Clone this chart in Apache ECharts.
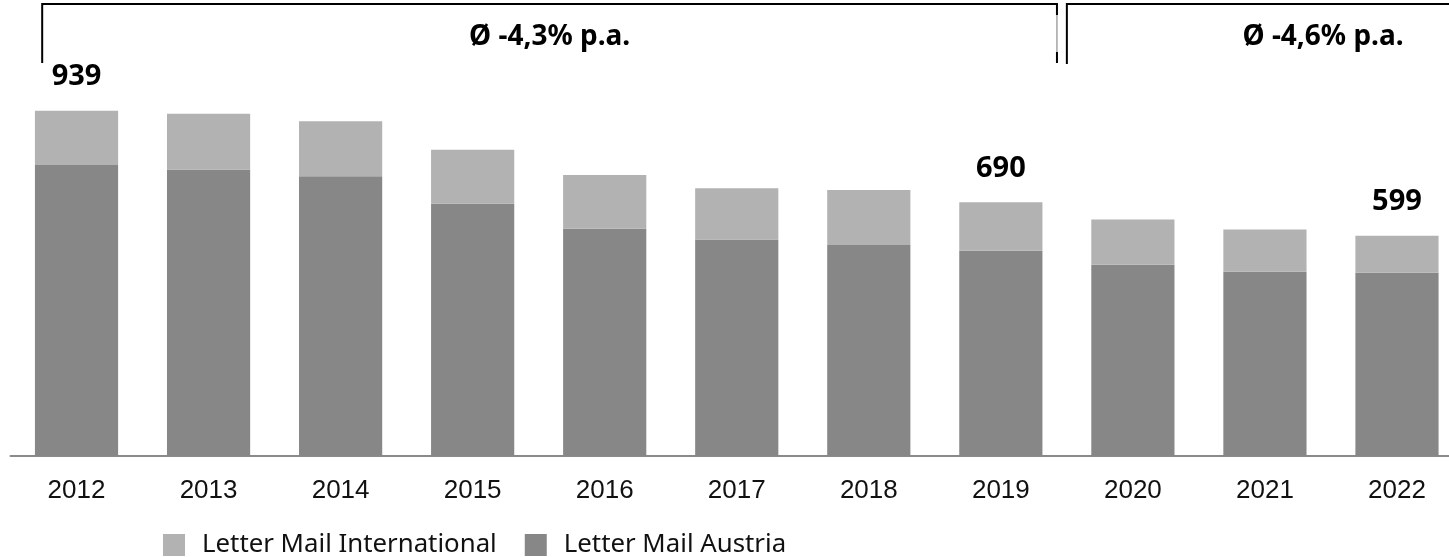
<!DOCTYPE html>
<html>

<head lang="en">
  <meta charset="UTF-8">
  <title>Letter Mail</title>
  <script src="https://cdn.jsdelivr.net/npm/echarts@6/dist/echarts.min.js"></script>
  <style>
  html, body { margin: 0; padding: 0; background: #fff; }
  #section {
    width: 1449px;
    height: 557px;
  }
  </style>
</head>

<body>
  <div id="section"></div>
</body>
<script>
// data
var years = ['2012', '2013', '2014', '2015', '2016', '2017', '2018', '2019', '2020', '2021', '2022'];
var austria = [791, 779, 761, 686, 618, 589, 574, 558, 520, 501, 498];
var international = [148, 152, 149, 147, 146, 139, 149, 132, 123, 115, 101];
var labelledYears = ['2012', '2019', '2022'];
var growthTexts = ['Ø -4,3% p.a.', 'Ø -4,6% p.a.'];

var totals = austria.map(function(v, i) { return v + international[i]; });

var myCharts = echarts.init(document.getElementById('section'));

option = {
  animation: false,
  grid: {
    left: 10.5,
    width: 1452.5,
    top: 0,
    bottom: 101,
    outerBoundsMode: 'none',
    containLabel: false
  },
  legend: {
    data: ['Letter Mail International', 'Letter Mail Austria'],
    left: 158,
    top: 527,
    itemWidth: 22,
    itemHeight: 22,
    itemGap: 28,
    icon: 'rect',
    textStyle: {
      fontFamily: 'Noto Sans',
      fontSize: 25.8,
      color: '#111',
      padding: [0, 0, 0, 12]
    }
  },
  xAxis: [{
    type: 'category',
    data: years,
    axisLine: { lineStyle: { color: '#8a8a8a', width: 2 } },
    axisTick: { show: false },
    axisLabel: {
      margin: 22,
      fontFamily: 'Liberation Sans',
      fontSize: 26,
      color: '#111'
    }
  }],
  yAxis: [{
    type: 'value',
    min: 0,
    max: 1240,
    show: false,
    splitLine: { show: false }
  }],
  series: [{
    name: 'Letter Mail Austria',
    type: 'bar',
    stack: 'total',
    barWidth: '63%',
    itemStyle: { color: '#878787' },
    data: austria
  }, {
    name: 'Letter Mail International',
    type: 'bar',
    stack: 'total',
    barWidth: '63%',
    itemStyle: { color: '#b2b2b2' },
    label: {
      show: true,
      position: 'top',
      distance: 19,
      fontFamily: 'Noto Sans',
      fontWeight: 'bold',
      fontSize: 29,
      color: '#000',
      formatter: function(p) {
        return labelledYears.indexOf(p.name) >= 0 ? String(totals[p.dataIndex]) : '';
      }
    },
    data: international
  }]
};

myCharts.setOption(option);

// brackets with the growth rates, placed from the category positions
var x0 = myCharts.convertToPixel({ xAxisIndex: 0 }, 0);
var step = myCharts.convertToPixel({ xAxisIndex: 0 }, 1) - x0;
var xAt = function(i) { return x0 + i * step; };

var b1Left = xAt(0) - 0.26 * step;
var b1Right = xAt(7) + 0.425 * step;
var b2Left = xAt(7) + 0.5 * step;
var b2Right = myCharts.getWidth() + 5;
var topY = 4, bottomY = 63;

var black = { stroke: '#000', lineWidth: 2 };

myCharts.setOption({
  graphic: [
    { type: 'polyline', shape: { points: [[b1Left, bottomY], [b1Left, topY], [b1Right, topY], [b1Right, 15]] }, style: black },
    { type: 'line', shape: { x1: b1Right, y1: 15, x2: b1Right, y2: 52 }, style: { stroke: '#777', lineWidth: 1 } },
    { type: 'line', shape: { x1: b1Right, y1: 52, x2: b1Right, y2: bottomY }, style: black },
    { type: 'polyline', shape: { points: [[b2Left, bottomY + 1], [b2Left, topY], [b2Right, topY]] }, style: black },
    {
      type: 'text',
      x: (b1Left + b1Right) / 2,
      y: 37,
      style: {
        text: growthTexts[0],
        align: 'center',
        verticalAlign: 'middle',
        fontFamily: 'Noto Sans',
        fontWeight: 'bold',
        fontSize: 28,
        fill: '#000'
      }
    },
    {
      type: 'text',
      x: xAt(9) + 0.44 * step,
      y: 37,
      style: {
        text: growthTexts[1],
        align: 'center',
        verticalAlign: 'middle',
        fontFamily: 'Noto Sans',
        fontWeight: 'bold',
        fontSize: 28,
        fill: '#000'
      }
    }
  ]
});
</script>

</html>
